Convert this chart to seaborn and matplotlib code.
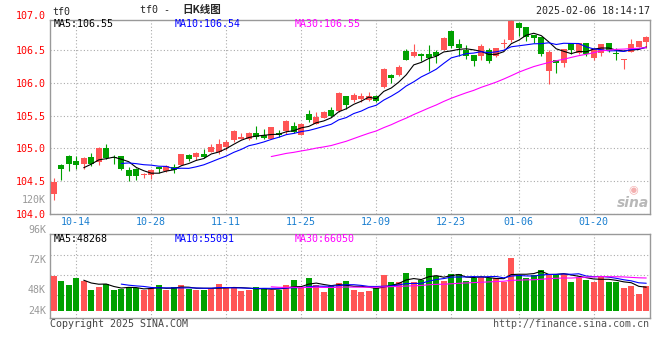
import numpy as np
import pandas as pd
import matplotlib
matplotlib.use('Agg')
import matplotlib.pyplot as plt
import seaborn as sns

# estilo base
sns.set_style('white')
plt.rcParams['font.family'] = ['DejaVu Sans Mono', 'Noto Sans CJK SC']

# datos diarios tf0
dates = ['10-09', '10-10', '10-11', '10-14', '10-15', '10-16', '10-17', '10-18', '10-21', '10-22',
         '10-23', '10-24', '10-25', '10-28', '10-29', '10-30', '10-31', '11-01', '11-04', '11-05',
         '11-06', '11-07', '11-08', '11-11', '11-12', '11-13', '11-14', '11-15', '11-18', '11-19',
         '11-20', '11-21', '11-22', '11-25', '11-26', '11-27', '11-28', '11-29', '12-02', '12-03',
         '12-04', '12-05', '12-06', '12-09', '12-10', '12-11', '12-12', '12-13', '12-16', '12-17',
         '12-18', '12-19', '12-20', '12-23', '12-24', '12-25', '12-26', '12-27', '12-30', '12-31',
         '01-02', '01-03', '01-06', '01-07', '01-08', '01-09', '01-10', '01-13', '01-14', '01-15',
         '01-16', '01-17', '01-20', '01-21', '01-22', '01-23', '01-24', '01-27', '02-05', '02-06']

opens = [104.30, 104.75, 104.89, 104.81, 104.76, 104.87, 104.79, 105.00, 104.87, 104.89,
         104.67, 104.69, 104.59, 104.60, 104.71, 104.65, 104.72, 104.75, 104.90, 104.87,
         104.92, 104.95, 104.94, 105.02, 105.13, 105.15, 105.15, 105.23, 105.21, 105.15,
         105.24, 105.26, 105.35, 105.21, 105.52, 105.38, 105.47, 105.59, 105.57, 105.80,
         105.74, 105.75, 105.74, 105.80, 105.94, 106.12, 106.12, 106.49, 106.41, 106.45,
         106.44, 106.48, 106.51, 106.80, 106.60, 106.51, 106.43, 106.41, 106.51, 106.42,
         106.59, 106.66, 106.92, 106.86, 106.74, 106.71, 106.18, 106.35, 106.31, 106.62,
         106.46, 106.62, 106.38, 106.46, 106.61, 106.46, 106.35, 106.48, 106.55, 106.63]

highs = [104.54, 104.76, 104.90, 104.88, 104.87, 104.93, 105.02, 105.06, 104.90, 104.89,
         104.72, 104.70, 104.63, 104.69, 104.72, 104.75, 104.76, 104.92, 104.91, 104.95,
         104.99, 105.07, 105.15, 105.13, 105.28, 105.23, 105.25, 105.34, 105.29, 105.33,
         105.28, 105.44, 105.40, 105.39, 105.58, 105.56, 105.57, 105.64, 105.86, 105.80,
         105.84, 105.85, 105.86, 105.81, 106.23, 106.14, 106.27, 106.52, 106.60, 106.46,
         106.58, 106.50, 106.70, 106.80, 106.68, 106.58, 106.43, 106.59, 106.54, 106.54,
         106.68, 106.96, 106.93, 106.86, 106.74, 106.71, 106.51, 106.35, 106.52, 106.62,
         106.61, 106.62, 106.53, 106.60, 106.61, 106.54, 106.37, 106.68, 106.64, 106.72]

lows = [104.21, 104.52, 104.65, 104.68, 104.68, 104.73, 104.74, 104.83, 104.76, 104.67,
        104.50, 104.52, 104.54, 104.53, 104.62, 104.64, 104.62, 104.74, 104.81, 104.82,
        104.86, 104.95, 104.92, 104.97, 105.10, 105.14, 105.13, 105.15, 105.15, 105.15,
        105.18, 105.22, 105.23, 105.20, 105.41, 105.38, 105.47, 105.48, 105.56, 105.61,
        105.71, 105.71, 105.73, 105.71, 105.93, 106.00, 106.11, 106.35, 106.40, 106.34,
        106.19, 106.30, 106.50, 106.53, 106.42, 106.37, 106.26, 106.36, 106.31, 106.40,
        106.53, 106.63, 106.72, 106.65, 106.62, 106.42, 105.99, 106.16, 106.25, 106.44,
        106.45, 106.42, 106.36, 106.42, 106.47, 106.36, 106.22, 106.47, 106.55, 106.54]

closes = [104.49, 104.68, 104.76, 104.74, 104.85, 104.76, 105.01, 104.85, 104.86, 104.69,
          104.57, 104.57, 104.60, 104.67, 104.69, 104.73, 104.67, 104.91, 104.84, 104.93,
          104.87, 105.02, 105.06, 105.10, 105.26, 105.18, 105.23, 105.17, 105.16, 105.32,
          105.20, 105.42, 105.25, 105.38, 105.43, 105.48, 105.56, 105.49, 105.84, 105.66,
          105.82, 105.80, 105.80, 105.72, 106.22, 106.08, 106.25, 106.36, 106.48, 106.41,
          106.38, 106.42, 106.69, 106.56, 106.53, 106.42, 106.34, 106.57, 106.33, 106.54,
          106.62, 106.95, 106.84, 106.71, 106.69, 106.44, 106.47, 106.31, 106.52, 106.51,
          106.61, 106.44, 106.52, 106.60, 106.51, 106.45, 106.37, 106.60, 106.64, 106.70]

# volumen en miles
volumes = [75, 64, 56, 71, 64, 45, 51, 58, 45, 47,
           52, 49, 44, 49, 56, 45, 51, 56, 47, 45,
           45, 50, 58, 49, 50, 43, 45, 51, 50, 44,
           45, 56, 66, 50, 71, 56, 41, 53.5, 60.7, 64.3,
           45, 41.4, 43.5, 48.5, 77, 62.8, 62.8, 82, 62.8, 66.4,
           92.8, 75, 65, 79.3, 79.3, 65, 70, 73.5, 70, 70,
           62.8, 114, 77, 70, 77, 87.8, 80, 77, 78.4, 62.8,
           73.6, 65.5, 62.8, 75, 62.8, 62.8, 49, 53.5, 36.4, 53.5]

tick_dates = ['10-14', '10-28', '11-11', '11-25', '12-09', '12-23', '01-06', '01-20']
price_ticks = [104.0, 104.5, 105.0, 105.5, 106.0, 106.5]

RED = '#ff5555'
GREEN = '#00a000'
GRID = '#aaaaaa'
W, H = 660, 360

df = pd.DataFrame({'date': dates, 'open': opens, 'high': highs, 'low': lows,
                   'close': closes, 'vol': volumes})
df['x'] = np.arange(len(df))
df['color'] = np.where(df['close'] >= df['open'], RED, GREEN)
for n in [5, 10, 30]:
    df['ma%d' % n] = df['close'].rolling(n).mean()
    df['vma%d' % n] = df['vol'].rolling(n).mean()

xticks = [dates.index(d) for d in tick_dates]

fig = plt.figure(figsize=(W / 100, H / 100), dpi=100)
fig.patch.set_facecolor('white')
ax = fig.add_axes([50 / W, 1 - 213.7 / H, 600 / W, 193.7 / H])
axv = fig.add_axes([50 / W, 1 - 318 / H, 600 / W, 84 / H])


def px_text(x, y, s, **kw):
    kw.setdefault('va', 'center')
    kw.setdefault('fontsize', 7.2)
    fig.text(x / W, 1 - y / H, s, **kw)


# --- velas ---
body_lo = df[['open', 'close']].min(axis=1)
body_h = (df['close'] - df['open']).abs().clip(lower=0.012)
ax.vlines(df['x'], df['low'], df['high'], colors=df['color'], lw=0.8, zorder=3)
ax.bar(df['x'], body_h, bottom=body_lo, width=0.8, color=df['color'], linewidth=0, zorder=4)

sns.lineplot(data=df, x='x', y='ma5', ax=ax, color='black', lw=0.8, zorder=5)
sns.lineplot(data=df, x='x', y='ma10', ax=ax, color='#0000ff', lw=0.8, zorder=5)
sns.lineplot(data=df, x='x', y='ma30', ax=ax, color='#ff00ff', lw=0.8, zorder=5)

ax.set_xlim(-0.5, 79.5)
ax.set_ylim(104.0, 106.965)
ax.set_yticks(price_ticks)
ax.set_yticklabels(['%.1f' % p for p in price_ticks])
ax.set_xticks(xticks)
ax.set_xticklabels(tick_dates)
ax.tick_params(axis='y', length=0, pad=3, labelcolor='#ff0000', labelsize=7.2)
ax.tick_params(axis='x', length=0, pad=2.5, labelcolor='#1a7fd0', labelsize=7.2)
ax.set_xlabel('')
ax.set_ylabel('')
ax.grid(True, color=GRID, linestyle=(0, (1, 2)), lw=0.8)
ax.set_axisbelow(True)
for s in ax.spines.values():
    s.set_color('#999999')
    s.set_linewidth(1)

# --- volumen ---
axv.bar(df['x'], df['vol'], width=0.8, color=df['color'], linewidth=0, zorder=3)
sns.lineplot(data=df, x='x', y='vma5', ax=axv, color='black', lw=0.8, zorder=4)
sns.lineplot(data=df, x='x', y='vma10', ax=axv, color='#0000ff', lw=0.8, zorder=4)
sns.lineplot(data=df, x='x', y='vma30', ax=axv, color='#ff00ff', lw=0.8, zorder=4)
axv.set_xlim(-0.5, 79.5)
axv.set_ylim(-15, 165)
axv.set_xticks(xticks)
axv.set_xticklabels([])
axv.set_yticks([34.3, 77.1, 120])
axv.set_yticklabels([])
axv.tick_params(length=0)
axv.set_xlabel('')
axv.set_ylabel('')
axv.grid(True, color=GRID, linestyle=(0, (1, 2)), lw=0.8)
axv.set_axisbelow(True)
for s in axv.spines.values():
    s.set_color('#999999')
    s.set_linewidth(1)

# --- textos ---
px_text(52, 12, 'tf0', ha='left')
px_text(140, 10, 'tf0 - ', ha='left')
px_text(182, 10, '日K线图', ha='left', family=['Noto Sans CJK SC'], fontsize=7.6, fontweight='bold')
px_text(650, 11, '2025-02-06 18:14:17', ha='right')
px_text(46, 16, '107.0', ha='right', color='#ff0000')
px_text(46, 200, '120K', ha='right', color='#999999')

px_text(54, 24, 'MA5:106.55', ha='left', color='black')
px_text(175, 24, 'MA10:106.54', ha='left', color='#0000ff')
px_text(295, 24, 'MA30:106.55', ha='left', color='#ff00ff')

px_text(54, 238.5, 'MA5:48268', ha='left', color='black')
px_text(175, 238.5, 'MA10:55091', ha='left', color='#0000ff')
px_text(295, 238.5, 'MA30:66050', ha='left', color='#ff00ff')

for lab, yy in [('96K', 230), ('72K', 260), ('48K', 290), ('24K', 311)]:
    px_text(46, yy, lab, ha='right', color='#999999')

px_text(50, 324, 'Copyright 2025 SINA.COM', ha='left', color='#444444')
px_text(649, 324, 'http://finance.sina.com.cn', ha='right', color='#555555')

# marca de agua
px_text(633, 190, '\u25c9', ha='center', color='#f4b0b0', fontsize=8, family=['DejaVu Sans'])
px_text(633, 203, 'sina', ha='center', color='#b8b8b8', fontsize=10,
        family=['DejaVu Sans'], style='italic', fontweight='bold')

fig.savefig('out.png', dpi=100)
